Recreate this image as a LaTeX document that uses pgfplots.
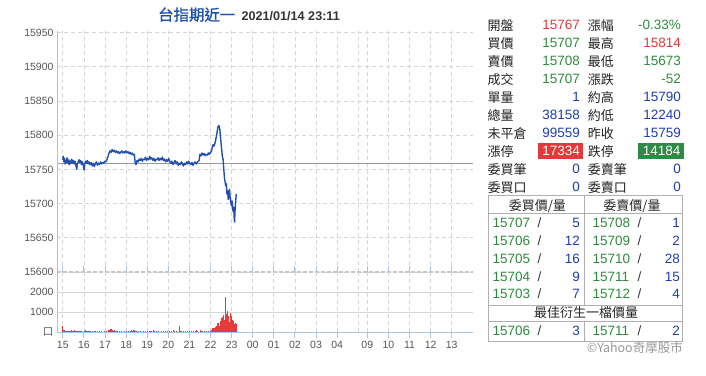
\documentclass[border=0pt]{standalone}
\usepackage{fontspec}
\setmainfont{Liberation Sans}
\newfontfamily\cjk{Noto Sans CJK TC}
\newfontfamily\cjkb[FakeBold=1.2]{Noto Sans CJK TC}
\usepackage{pgfplots}
\pgfplotsset{compat=1.18}
\definecolor{axblue}{HTML}{A8C4DE}
\definecolor{gridc}{HTML}{D6D6D6}
\definecolor{pline}{HTML}{2350AE}
\definecolor{refc}{HTML}{9A9A9A}
\definecolor{volr}{HTML}{E63B3B}
\definecolor{tickc}{HTML}{555555}
\definecolor{tred}{HTML}{E0393B}
\definecolor{tgreen}{HTML}{2E8B3C}
\definecolor{tblue}{HTML}{1F3FA8}
\definecolor{tlab}{HTML}{222222}
\definecolor{boxred}{HTML}{E23A3A}
\definecolor{boxgreen}{HTML}{2E8B45}
\definecolor{titleblue}{HTML}{1D4FA8}
\definecolor{tline}{HTML}{B0B0B0}

\newcommand{\lab}[3]{\node[anchor=base west, inner sep=0pt, text=tlab, font=\cjk\fontsize{13}{13}\selectfont] at ({#1pt},{-#2pt-5pt}) {#3};}
\newcommand{\val}[4]{\node[anchor=base east, inner sep=0pt, text=#3, font=\fontsize{13.5}{13.5}\selectfont] at ({#1pt},{-#2pt-4.8pt}) {#4};}
\newcommand{\valw}[4]{\node[anchor=base west, inner sep=0pt, text=#3, font=\fontsize{13.5}{13.5}\selectfont] at ({#1pt},{-#2pt-4.8pt}) {#4};}

\pgfplotsset{
  common/.style={
    scale only axis, width=416pt, anchor=south west,
    xmin=-0.275, xmax=19.44,
    xtick={0,1,2,3,4,5,6,7,8,9,10,11,12,13,14.43,15.43,16.43,17.43,18.43},
    axis line style={draw=none},
    scaled y ticks=false, scaled x ticks=false,
    /pgf/number format/assume math mode=true,
    /pgf/number format/1000 sep={},
    ticklabel style={font=\fontsize{10.5}{12}\selectfont, text=tickc},
    xmajorgrids, ymajorgrids,
    x grid style={gridc, dash pattern=on 4pt off 3pt, line width=0.8pt},
    extra x ticks={14},
    extra x tick labels={},
    extra x tick style={grid style={solid, gridc, line width=0.9pt}, major tick length=0pt},
  }
}

\begin{document}
\begin{tikzpicture}
\path[use as bounding box] (0pt,0pt) rectangle (706pt,-375pt);

% price panel
\begin{axis}[common,
  at={(57pt,-272pt)}, height=240.8pt,
  ymin=15600, ymax=15952,
  ytick={15600,15650,15700,15750,15800,15850,15900,15950},
  xticklabels={},
  major tick length=0pt,
  y grid style={gridc, dash pattern=on 4pt off 3pt, line width=0.8pt},
  after end axis/.code={
    \draw[gray!45, dash pattern=on 4pt off 2pt, line width=1.2pt] (rel axis cs:0,0) -- (rel axis cs:1,0);
    \draw[axblue, line width=1pt] (rel axis cs:0,0) -- (rel axis cs:0,1);
  },
]
\addplot[refc, line width=1pt] coordinates {(-0.275,15759) (19.44,15759)};
\addplot[pline, line width=1.4pt, line join=round] table {
h p
0.00 15764
0.02 15769
0.05 15761
0.08 15766
0.11 15758
0.14 15763
0.17 15760
0.20 15767
0.23 15761
0.26 15758
0.29 15764
0.32 15757
0.35 15762
0.38 15759
0.42 15765
0.46 15759
0.50 15763
0.54 15758
0.58 15762
0.62 15756
0.66 15750
0.69 15758
0.73 15761
0.77 15764
0.81 15760
0.85 15763
0.89 15757
0.93 15761
0.97 15756
1.01 15749
1.04 15758
1.08 15762
1.12 15759
1.16 15763
1.20 15758
1.24 15761
1.29 15757
1.34 15760
1.39 15755
1.44 15759
1.49 15754
1.54 15758
1.59 15761
1.64 15756
1.69 15759
1.74 15757
1.79 15761
1.84 15758
1.89 15760
1.94 15759
1.99 15762
2.04 15761
2.09 15764
2.14 15769
2.19 15774
2.24 15777
2.29 15775
2.34 15779
2.39 15776
2.44 15778
2.49 15775
2.54 15777
2.59 15774
2.64 15776
2.69 15773
2.74 15775
2.79 15777
2.84 15774
2.89 15776
2.94 15774
2.99 15777
3.04 15774
3.09 15776
3.14 15773
3.19 15775
3.24 15772
3.29 15774
3.34 15771
3.39 15772
3.43 15760
3.47 15757
3.52 15763
3.57 15761
3.62 15765
3.67 15763
3.72 15766
3.77 15762
3.82 15765
3.87 15764
3.92 15768
3.97 15763
4.02 15766
4.07 15764
4.12 15769
4.17 15765
4.22 15767
4.27 15763
4.32 15766
4.37 15762
4.42 15765
4.47 15764
4.52 15767
4.57 15763
4.62 15766
4.67 15764
4.72 15768
4.77 15763
4.82 15765
4.87 15761
4.92 15764
4.97 15762
5.02 15766
5.07 15761
5.12 15759
5.17 15762
5.22 15757
5.27 15760
5.32 15763
5.37 15758
5.42 15761
5.47 15756
5.52 15759
5.57 15757
5.62 15761
5.67 15758
5.72 15755
5.77 15759
5.82 15757
5.87 15761
5.92 15758
5.97 15762
6.02 15759
6.07 15757
6.12 15760
6.17 15756
6.22 15759
6.27 15761
6.32 15758
6.37 15760
6.42 15762
6.46 15763
6.50 15772
6.55 15770
6.60 15774
6.65 15771
6.70 15773
6.75 15770
6.80 15772
6.85 15771
6.90 15774
6.95 15772
7.00 15775
7.04 15776
7.08 15782
7.12 15786
7.16 15784
7.20 15787
7.24 15792
7.28 15799
7.32 15806
7.36 15813
7.40 15814
7.44 15809
7.48 15795
7.52 15782
7.56 15769
7.60 15764
7.63 15750
7.66 15738
7.69 15732
7.72 15726
7.75 15729
7.78 15714
7.81 15719
7.84 15706
7.87 15712
7.90 15721
7.93 15709
7.96 15702
7.99 15697
8.02 15704
8.05 15692
8.08 15688
8.10 15695
8.12 15680
8.14 15673
8.16 15688
8.18 15697
8.20 15706
8.22 15714
};
\end{axis}

% volume panel
\begin{axis}[common,
  at={(57pt,-332pt)}, height=60pt,
  ymin=0, ymax=3000,
  ytick={0,1000,2000},
  yticklabels={{\cjk 口},1000,2000},
  xticklabels={15,16,17,18,19,20,21,22,23,00,01,02,03,04,09,10,11,12,13},
  tick align=outside, major tick length=6pt,
  major x tick style={axblue, line width=0.9pt},
  major y tick style={draw=none},
  yticklabel style={xshift=6pt},
  y grid style={gridc, solid, line width=0.9pt},
  after end axis/.code={
    \draw[axblue, line width=1pt] (rel axis cs:0,0) -- (rel axis cs:0,1);
    \draw[axblue, line width=1pt] (rel axis cs:0,0) -- (rel axis cs:1,0);
  },
]
\addplot[volr, ycomb, line width=0.8pt] table {
h v
0.00 310
0.03 120
0.06 80
0.10 60
0.15 50
0.20 70
0.25 40
0.30 60
0.35 50
0.40 80
0.45 40
0.50 60
0.55 100
0.60 50
0.65 70
0.70 40
0.75 30
0.80 50
0.85 40
0.90 30
1.00 60
1.05 110
1.10 40
1.15 30
1.20 50
1.25 30
1.30 40
1.40 30
1.50 50
1.55 40
1.65 30
1.75 40
1.85 30
1.95 40
2.05 50
2.15 100
2.20 80
2.25 160
2.30 160
2.35 90
2.40 60
2.45 120
2.50 70
2.55 50
2.60 40
2.70 50
2.80 40
2.90 60
3.00 40
3.10 30
3.20 50
3.25 90
3.30 60
3.35 120
3.40 100
3.45 70
3.50 50
3.60 40
3.70 50
3.80 40
3.90 30
4.00 40
4.10 50
4.15 70
4.20 40
4.30 90
4.35 50
4.45 40
4.55 30
4.65 40
4.75 30
4.85 40
4.95 30
5.05 50
5.15 40
5.25 80
5.30 40
5.40 30
5.52 280
5.56 50
5.60 40
5.70 50
5.80 40
5.90 30
6.00 40
6.10 50
6.20 30
6.30 60
6.35 120
6.40 50
6.50 110
6.55 60
6.60 40
6.70 50
6.80 40
6.90 60
7.00 50
7.06 120
7.10 200
7.13 210
7.16 150
7.19 220
7.21 200
7.24 260
7.27 320
7.29 300
7.32 380
7.35 450
7.37 430
7.40 300
7.43 280
7.46 420
7.49 560
7.52 700
7.54 600
7.57 750
7.60 870
7.63 700
7.65 530
7.68 620
7.70 1100
7.72 1750
7.74 900
7.76 780
7.79 1000
7.81 1030
7.83 800
7.85 620
7.88 500
7.90 450
7.93 650
7.95 950
7.97 800
7.99 700
8.02 600
8.04 450
8.07 520
8.09 530
8.12 400
8.14 370
8.16 420
8.18 450
8.21 380
8.23 370
};
\end{axis}

% title
\node[anchor=base west, inner sep=0pt, text=titleblue, font=\cjkb\fontsize{15.4}{15.4}\selectfont] at (158pt,-20.5pt) {台指期近一};
\node[anchor=base west, inner sep=0pt, text=black!80, font=\bfseries\fontsize{12.6}{12.6}\selectfont] at (241.5pt,-20pt) {2021/01/14 23:11};

% quote table
\lab{487.3}{25}{開盤}   \val{580}{25}{tred}{15767}   \lab{587.7}{25}{漲幅}   \val{681}{25}{tgreen}{-0.33\%}
\lab{487.3}{43}{買價}   \val{580}{43}{tgreen}{15707} \lab{587.7}{43}{最高}   \val{681}{43}{tred}{15814}
\lab{487.3}{61}{賣價}   \val{580}{61}{tgreen}{15708} \lab{587.7}{61}{最低}   \val{681}{61}{tgreen}{15673}
\lab{487.3}{79}{成交}   \val{580}{79}{tgreen}{15707} \lab{587.7}{79}{漲跌}   \val{681}{79}{tgreen}{-52}
\lab{487.3}{97}{單量}   \val{580}{97}{tblue}{1}      \lab{587.7}{97}{約高}   \val{681}{97}{tblue}{15790}
\lab{487.3}{115}{總量}  \val{580}{115}{tblue}{38158} \lab{587.7}{115}{約低}  \val{681}{115}{tblue}{12240}
\lab{487.3}{133}{未平倉}\val{580}{133}{tblue}{99559} \lab{587.7}{133}{昨收}  \val{681}{133}{tblue}{15759}
\fill[boxred] (538.3pt,-143.3pt) rectangle (583.3pt,-159.3pt);
\fill[boxgreen] (637.7pt,-143.3pt) rectangle (684pt,-159.3pt);
\lab{487.3}{151}{漲停}  \val{580}{151}{white}{17334} \lab{587.7}{151}{跌停}  \val{680.5}{151}{white}{14184}
\lab{487.3}{169}{委買筆}\val{580}{169}{tblue}{0}     \lab{587.7}{169}{委賣筆}\val{681}{169}{tblue}{0}
\lab{487.3}{187}{委買口}\val{580}{187}{tblue}{0}     \lab{587.7}{187}{委賣口}\val{681}{187}{tblue}{0}

% order book box
\draw[tline, line width=0.9pt] (488.3pt,-195.7pt) rectangle (682.3pt,-341pt);
\draw[tline, line width=0.9pt] (488.3pt,-213.3pt) -- (682.3pt,-213.3pt);
\draw[tline, line width=0.9pt] (488.3pt,-305pt) -- (682.3pt,-305pt);
\draw[tline, line width=0.9pt] (488.3pt,-321.7pt) -- (682.3pt,-321.7pt);
\draw[tline, line width=0.9pt] (584.3pt,-195.7pt) -- (584.3pt,-305pt);
\draw[tline, line width=0.9pt] (584.3pt,-321.7pt) -- (584.3pt,-341pt);
\node[anchor=base, inner sep=0pt, text=black!85, font=\cjk\fontsize{13}{13}\selectfont] at (537.3pt,-210pt) {委買價/量};
\node[anchor=base, inner sep=0pt, text=black!85, font=\cjk\fontsize{13}{13}\selectfont] at (632pt,-210pt) {委賣價/量};
\node[anchor=base, inner sep=0pt, text=black!85, font=\cjk\fontsize{13}{13}\selectfont] at (586pt,-317.7pt) {最佳衍生一檔價量};

\valw{492.3}{222.5}{tgreen}{15707} \valw{537.5}{222.5}{black!80}{/} \val{580}{222.5}{tblue}{5}
\valw{492.3}{240.4}{tgreen}{15706} \valw{537.5}{240.4}{black!80}{/} \val{580}{240.4}{tblue}{12}
\valw{492.3}{258.3}{tgreen}{15705} \valw{537.5}{258.3}{black!80}{/} \val{580}{258.3}{tblue}{16}
\valw{492.3}{276.2}{tgreen}{15704} \valw{537.5}{276.2}{black!80}{/} \val{580}{276.2}{tblue}{9}
\valw{492.3}{294.1}{tgreen}{15703} \valw{537.5}{294.1}{black!80}{/} \val{580}{294.1}{tblue}{7}
\valw{592.3}{222.5}{tgreen}{15708} \valw{637.5}{222.5}{black!80}{/} \val{680}{222.5}{tblue}{1}
\valw{592.3}{240.4}{tgreen}{15709} \valw{637.5}{240.4}{black!80}{/} \val{680}{240.4}{tblue}{2}
\valw{592.3}{258.3}{tgreen}{15710} \valw{637.5}{258.3}{black!80}{/} \val{680}{258.3}{tblue}{28}
\valw{592.3}{276.2}{tgreen}{15711} \valw{637.5}{276.2}{black!80}{/} \val{680}{276.2}{tblue}{15}
\valw{592.3}{294.1}{tgreen}{15712} \valw{637.5}{294.1}{black!80}{/} \val{680}{294.1}{tblue}{4}
\valw{492.3}{330.7}{tgreen}{15706} \valw{537.5}{330.7}{black!80}{/} \val{580}{330.7}{tblue}{3}
\valw{592.3}{330.7}{tgreen}{15711} \valw{637.5}{330.7}{black!80}{/} \val{680}{330.7}{tblue}{2}

\node[anchor=base east, inner sep=0pt, text=black!40, font=\cjk\fontsize{12.5}{12.5}\selectfont] at (683pt,-352.5pt) {©Yahoo奇摩股市};
\end{tikzpicture}
\end{document}
